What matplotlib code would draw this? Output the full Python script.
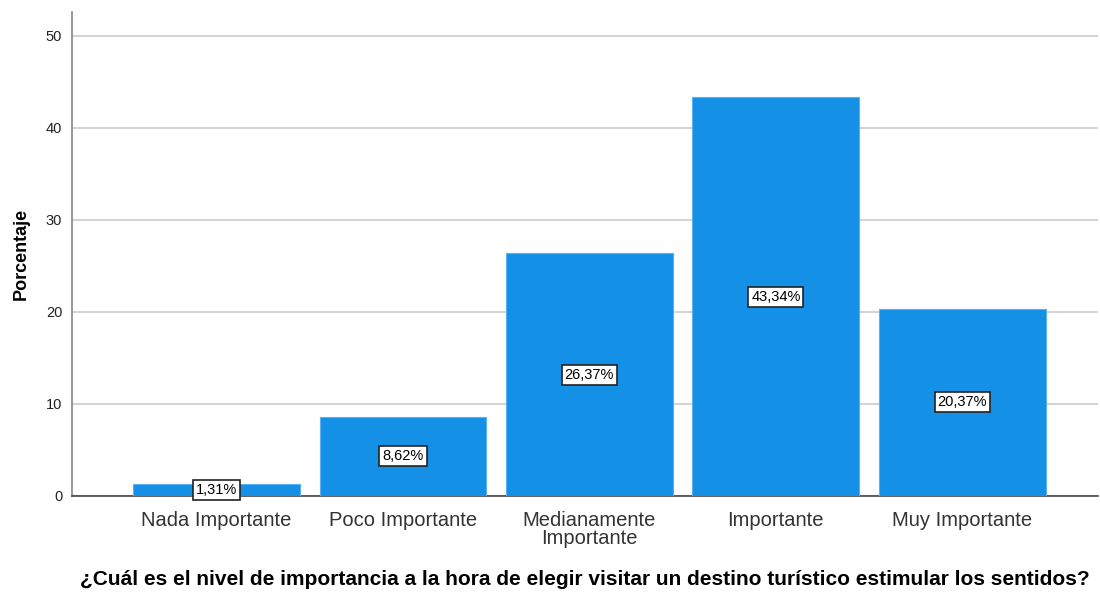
import matplotlib
matplotlib.use("Agg")
import matplotlib.pyplot as plt

categories = ["Nada Importante", "Poco Importante", "Medianamente\nImportante", "Importante", "Muy Importante"]
values = [1.31, 8.62, 26.37, 43.34, 20.37]
labels = ["1,31%", "8,62%", "26,37%", "43,34%", "20,37%"]
yticks = [0, 10, 20, 30, 40, 50]

plt.rcParams['font.family'] = ['Liberation Sans', 'DejaVu Sans']

fig = plt.figure(figsize=(11, 5.93), dpi=100)
ax = fig.add_axes([0.0655, 0.1636, 0.9325, 0.8162])

x = list(range(len(categories)))
ax.bar(x, values, width=0.895, color="#1490E6", edgecolor="#5AB0F0", linewidth=0.8, zorder=3)
for xi, v, lab in zip(x, values, labels):
    ax.text(xi, v / 2, lab, ha="center", va="center", fontsize=10.5, color="black", zorder=5,
            bbox=dict(boxstyle="square,pad=0.2", facecolor="white", edgecolor="#222222", linewidth=1.2))

ax.set_xlim(-0.775, 4.727)
ax.set_ylim(0, 52.6)
ax.set_yticks(yticks)
ax.set_yticklabels([str(t) for t in yticks], fontsize=10.5, color="#222222")
ax.set_xticks(x)
ax.set_xticklabels(categories, fontsize=14.5, color="#333333", linespacing=0.9)
ax.tick_params(axis="both", length=0)
ax.tick_params(axis="y", pad=7)
ax.tick_params(axis="x", pad=11)
ax.yaxis.grid(True, color="#d4d4d4", linewidth=1.5, zorder=0)
ax.set_axisbelow(True)
for s in ["top", "right"]:
    ax.spines[s].set_visible(False)
ax.spines["left"].set_color("#888888")
ax.spines["left"].set_linewidth(1.2)
ax.spines["bottom"].set_color("#444444")
ax.spines["bottom"].set_linewidth(1.2)

ax.set_ylabel("Porcentaje", fontsize=13, fontweight="bold", labelpad=12)
ax.set_xlabel("¿Cuál es el nivel de importancia a la hora de elegir visitar un destino turístico estimular los sentidos?",
              fontsize=15, fontweight="bold", labelpad=16)

fig.savefig("out.png", dpi=100, facecolor="white")
